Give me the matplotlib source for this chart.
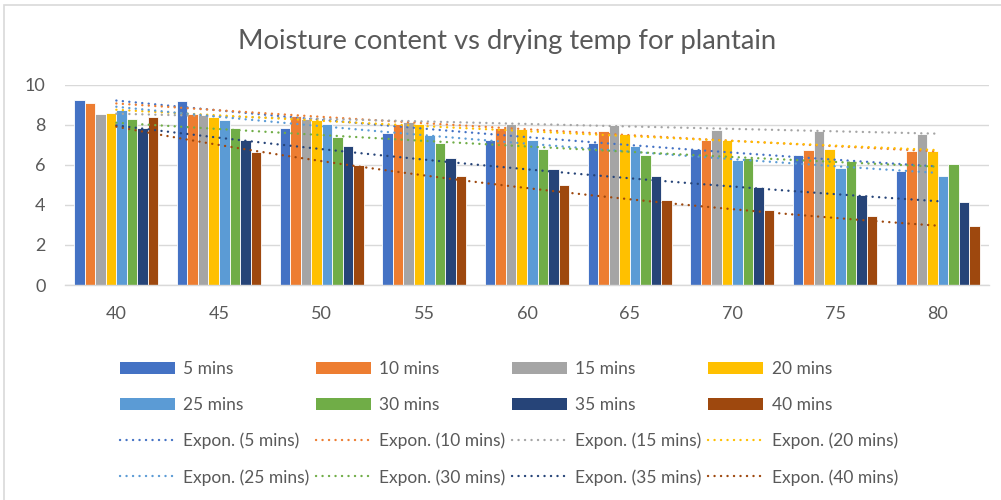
import numpy as np
import matplotlib
matplotlib.use('Agg')
import matplotlib.pyplot as plt
from matplotlib.patches import Rectangle, Patch
from matplotlib.lines import Line2D

plt.rcParams['font.family'] = ['Lato', 'DejaVu Sans']

# drying temperature categories
temps = ['40', '45', '50', '55', '60', '65', '70', '75', '80']

# moisture content per drying time
m5 = [9.23, 9.18, 7.85, 7.62, 7.25, 7.12, 6.82, 6.51, 5.69]
m10 = [9.12, 8.57, 8.45, 8.04, 7.85, 7.70, 7.24, 6.76, 6.69]
m15 = [8.54, 8.49, 8.29, 8.15, 8.04, 7.99, 7.75, 7.70, 7.57]
m20 = [8.60, 8.42, 8.25, 8.07, 7.79, 7.55, 7.25, 6.82, 6.69]
m25 = [8.75, 8.25, 8.04, 7.49, 7.25, 6.97, 6.24, 5.87, 5.47]
m30 = [8.32, 7.87, 7.42, 7.10, 6.82, 6.51, 6.37, 6.21, 6.06]
m35 = [7.84, 7.24, 6.94, 6.37, 5.82, 5.44, 4.88, 4.49, 4.16]
m40 = [8.39, 6.66, 5.99, 5.47, 4.99, 4.23, 3.76, 3.46, 2.93]

series_names = ['5 mins', '10 mins', '15 mins', '20 mins',
                '25 mins', '30 mins', '35 mins', '40 mins']
series_vals = [m5, m10, m15, m20, m25, m30, m35, m40]
colors = ['#4472C4', '#ED7D31', '#A5A5A5', '#FFC000',
          '#5B9BD5', '#70AD47', '#264478', '#9E480E']

txt_col = '#595959'
grid_col = '#D9D9D9'
dots = (0, (0.05, 2.7))

fig = plt.figure(figsize=(10.01, 5.0), dpi=100)
ax = fig.add_axes([65 / 1001, 1 - 285 / 500, 924 / 1001, 200 / 500])

x = np.arange(len(temps))
nser = len(series_vals)
group_w = 0.82
bw = group_w / nser

for i, vals in enumerate(series_vals):
    ax.bar(x - group_w / 2 + bw * (i + 0.5), vals, width=bw, color=colors[i],
           edgecolor='white', linewidth=0.6, zorder=2)

# Excel style exponential trendlines (log-linear fit on category number)
xs = np.linspace(0, len(temps) - 1, 200)
for i, vals in enumerate(series_vals):
    b, lna = np.polyfit(x + 1, np.log(vals), 1)
    ax.plot(xs, np.exp(lna + b * (xs + 1)), color=colors[i], lw=1.7,
            linestyle=dots, dash_capstyle='round', zorder=3)

ax.set_xlim(-0.5, len(temps) - 0.5)
ax.set_ylim(0, 10)
ax.set_yticks(np.arange(0, 11, 2))
ax.set_xticks(x)
ax.set_xticklabels(temps)
ax.yaxis.grid(True, color=grid_col, lw=1.0, zorder=0)
ax.set_axisbelow(True)
for s in ['top', 'right', 'left']:
    ax.spines[s].set_visible(False)
ax.spines['bottom'].set_color(grid_col)
ax.spines['bottom'].set_linewidth(1.0)
ax.tick_params(axis='both', length=0, labelsize=13, colors=txt_col)
ax.tick_params(axis='x', pad=15)
ax.tick_params(axis='y', pad=14)

fig.text(0.507, 1 - 42 / 500, 'Moisture content vs drying temp for plantain',
         ha='center', va='center', fontsize=19.7, color=txt_col)

# chart border
fig.add_artist(Rectangle((4 / 1001, -0.1), 1.2, 1 - 5 / 500 + 0.1,
                         transform=fig.transFigure, fill=False,
                         edgecolor=grid_col, lw=1.2))

# legend, 4 columns filled row by row
bar_handles = [Patch(facecolor=c) for c in colors]
line_handles = [Line2D([], [], color=c, lw=1.7, linestyle=dots,
                       dash_capstyle='round') for c in colors]
labels_all = series_names + ['Expon. (' + n + ')' for n in series_names]
handles_all = bar_handles + line_handles
order = []
for col in range(4):
    for row in range(4):
        order.append(row * 4 + col)
fig.legend([handles_all[k] for k in order], [labels_all[k] for k in order],
           ncol=4, loc='upper left', bbox_to_anchor=(120 / 1001, 1 - 361 / 500),
           frameon=False, fontsize=12.5, labelcolor=txt_col,
           handlelength=3.17, handletextpad=0.48, columnspacing=0.37,
           labelspacing=1.14, borderpad=0, borderaxespad=0)

fig.savefig('out.png', dpi=100, facecolor='white')
